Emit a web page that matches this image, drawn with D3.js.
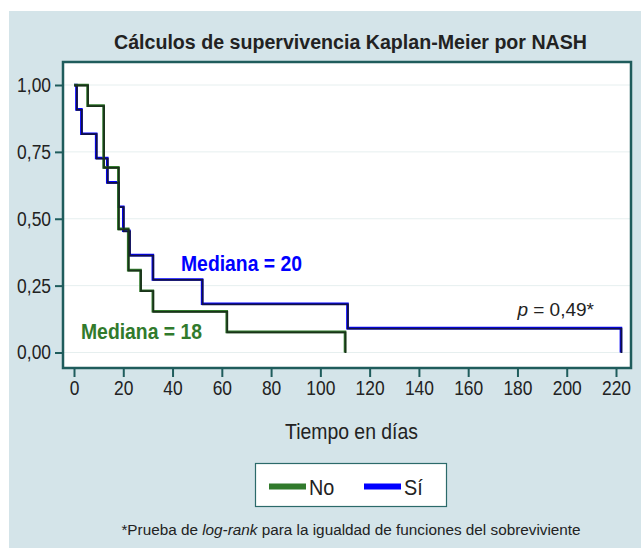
<!DOCTYPE html>
<html>
<head>
<meta charset="utf-8">
<script src="https://cdn.jsdelivr.net/npm/d3@7"></script>
<style>
  body { margin: 0; background: #fff; }
  svg text { font-family: "Liberation Sans", Arial, sans-serif; fill: #222; }
</style>
</head>
<body>
<svg id="km"></svg>
<script>
// Datos (tiempo en días, supervivencia)
const timesNo = [0, 5.5, 12, 18, 22, 27, 32, 62, 110];
const survNo  = [1, 0.923, 0.692, 0.462, 0.308, 0.231, 0.154, 0.077, 0];
const timesSi = [0, 1, 3, 9, 13.5, 18, 20, 22.5, 32, 52, 111, 222];
const survSi  = [1, 0.909, 0.818, 0.727, 0.636, 0.545, 0.455, 0.364, 0.273, 0.182, 0.091, 0];

const groups = ["No", "Sí"];
const xTicks = [0, 20, 40, 60, 80, 100, 120, 140, 160, 180, 200, 220];
const yTicks = [0, 0.25, 0.5, 0.75, 1];
const medianas = [18, 20];

const W = 641, H = 548;
const plot = { left: 63, top: 62, right: 631, bottom: 368 };
const colorDark = { "No": "#1a321a", "Sí": "#121245" };
const color = d3.scaleOrdinal().domain(groups).range(["#317a2c", "#0000ff"]);

const svg = d3.select("#km").attr("width", W).attr("height", H);

// simula una fuente estrecha (Arial Narrow) comprimiendo el texto
function narrow(sel, f) {
  sel.each(function() {
    const len = this.getComputedTextLength();
    d3.select(this).attr("textLength", len * f).attr("lengthAdjust", "spacingAndGlyphs");
  });
}

// fondo
svg.append("rect").attr("x", 9).attr("y", 11).attr("width", W - 9).attr("height", H - 11)
   .attr("fill", "#d4e4e9");
svg.append("rect").attr("x", plot.left).attr("y", plot.top)
   .attr("width", plot.right - plot.left).attr("height", plot.bottom - plot.top)
   .attr("fill", "#fff");

const xScale = d3.scaleLinear().domain([0, 220]).range([74, 616]);
const yScale = d3.scaleLinear().domain([0, 1]).range([352.5, 85]);

const comma = v => d3.format(".2f")(v).replace(".", ",");

// rejilla
svg.append("g").selectAll("line").data(yTicks).enter().append("line")
   .attr("x1", plot.left).attr("x2", plot.right)
   .attr("y1", d => yScale(d)).attr("y2", d => yScale(d))
   .attr("stroke", "#e6efef").attr("stroke-width", 1);

// ejes
const gy = svg.append("g").attr("transform", `translate(${plot.left},0)`)
   .call(d3.axisLeft(yScale).tickValues(yTicks).tickFormat(comma).tickSize(8).tickPadding(4));
const gx = svg.append("g").attr("transform", `translate(0,${plot.bottom})`)
   .call(d3.axisBottom(xScale).tickValues(xTicks).tickSize(9).tickPadding(4));
[gx, gy].forEach(g => {
  g.select(".domain").remove();
  g.selectAll(".tick line").attr("stroke", "#1f5c5c").attr("stroke-width", 2);
  g.selectAll(".tick text").attr("font-size", 20).attr("fill", "#222")
   .style("font-family", null).call(narrow, 0.87);
});

// curvas Kaplan-Meier
const series = [
  { key: "No", pts: timesNo.map((t, i) => [t, survNo[i]]) },
  { key: "Sí", pts: timesSi.map((t, i) => [t, survSi[i]]) }
];
const line = d3.line().x(d => xScale(d[0])).y(d => yScale(d[1])).curve(d3.curveStepAfter);

const curves = svg.append("g");
series.slice().reverse().forEach(s => {
  curves.append("path").attr("d", line(s.pts)).attr("fill", "none")
        .attr("stroke", color(s.key)).attr("stroke-width", 2.6);
});
series.slice().reverse().forEach(s => {
  curves.append("path").attr("d", line(s.pts)).attr("fill", "none")
        .attr("transform", "translate(0.5,0.5)")
        .attr("stroke", colorDark[s.key]).attr("stroke-width", 1.8);
});

// borde del área
svg.append("rect").attr("x", plot.left).attr("y", plot.top)
   .attr("width", plot.right - plot.left).attr("height", plot.bottom - plot.top)
   .attr("fill", "none").attr("stroke", "#1f5c5c").attr("stroke-width", 2.5);

// textos
svg.append("text").attr("x", 350.5).attr("y", 49).attr("text-anchor", "middle")
   .attr("font-size", 20).attr("font-weight", "bold")
   .attr("textLength", 473).attr("lengthAdjust", "spacingAndGlyphs")
   .text("Cálculos de supervivencia Kaplan-Meier por NASH");

svg.append("text").attr("x", 181).attr("y", 271).attr("font-size", 22).attr("font-weight", "bold")
   .attr("textLength", 121).attr("lengthAdjust", "spacingAndGlyphs")
   .style("fill", color("Sí")).text(`Mediana = ${medianas[1]}`);
svg.append("text").attr("x", 81).attr("y", 339).attr("font-size", 22).attr("font-weight", "bold")
   .attr("textLength", 121).attr("lengthAdjust", "spacingAndGlyphs")
   .style("fill", color("No")).text(`Mediana = ${medianas[0]}`);

const pt = svg.append("text").attr("x", 594).attr("y", 316).attr("text-anchor", "end").attr("font-size", 19);
pt.append("tspan").attr("font-style", "italic").text("p");
pt.append("tspan").text(" = 0,49*");

svg.append("text").attr("x", 351.5).attr("y", 439).attr("text-anchor", "middle")
   .attr("font-size", 22).attr("textLength", 133).attr("lengthAdjust", "spacingAndGlyphs")
   .text("Tiempo en días");

// leyenda
const leg = svg.append("g");
leg.append("rect").attr("x", 255.5).attr("y", 463.5).attr("width", 191).attr("height", 43)
   .attr("fill", "#fff").attr("stroke", "#2b6a6a").attr("stroke-width", 1.2);
const legX = [269, 364];
groups.forEach((g, i) => {
  leg.append("rect").attr("x", legX[i]).attr("y", 483.5).attr("width", 37).attr("height", 6)
     .attr("fill", color(g));
  leg.append("text").attr("x", legX[i] + 40).attr("y", 494.5).attr("font-size", 22)
     .text(g).call(narrow, 0.9);
});

const foot = svg.append("text").attr("x", 351).attr("y", 535).attr("text-anchor", "middle").attr("font-size", 15.3);
foot.append("tspan").text("*Prueba de ");
foot.append("tspan").attr("font-style", "italic").text("log-rank");
foot.append("tspan").text(" para la igualdad de funciones del sobreviviente");
</script>
</body>
</html>
